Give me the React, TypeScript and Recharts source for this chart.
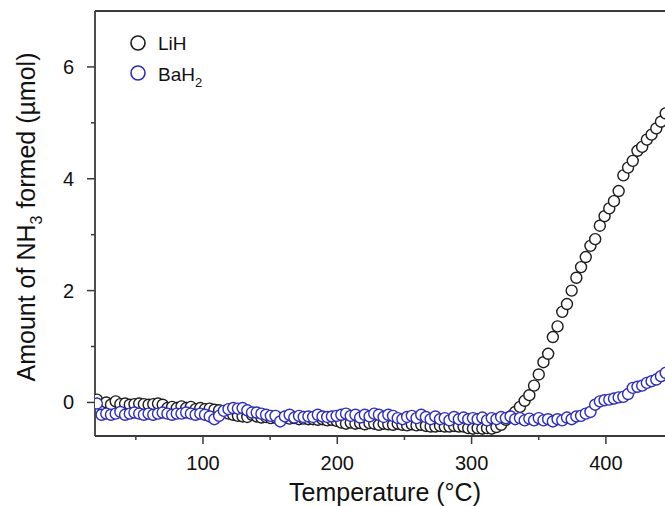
import React from "react"
import {
  ScatterChart,
  Scatter,
  XAxis,
  YAxis,
  ReferenceLine,
  Legend
} from "recharts"

// temperature (°C) of each reading
const temps = [
  21, 24.5, 28, 31.5, 35, 38.5, 42, 45.5, 49, 52.5,
  56, 59.5, 63, 66.5, 70, 73.5, 77, 80.5, 84, 87.5,
  91, 94.5, 98, 101.5, 105, 108.5, 112, 115.5, 119, 122.5,
  126, 129.5, 133, 136.5, 140, 143.5, 147, 150.5, 154, 157.5,
  161, 164.5, 168, 171.5, 175, 178.5, 182, 185.5, 189, 192.5,
  196, 199.5, 203, 206.5, 210, 213.5, 217, 220.5, 224, 227.5,
  231, 234.5, 238, 241.5, 245, 248.5, 252, 255.5, 259, 262.5,
  266, 269.5, 273, 276.5, 280, 283.5, 287, 290.5, 294, 297.5,
  301, 304.5, 308, 311.5, 315, 318.5, 322, 325.5, 329, 332.5,
  336, 339.5, 343, 346.5, 350, 353.5, 357, 360.5, 364, 367.5,
  371, 374.5, 378, 381.5, 385, 388.5, 392, 395.5, 399, 402.5,
  406, 409.5, 413, 416.5, 420, 423.5, 427, 430.5, 434, 437.5,
  441, 444.5
]

// NH3 formed (µmol), LiH
const lihValues = [
  0.05, -0.04, 0.0, -0.04, 0.02, -0.03, -0.02, -0.04, -0.03, -0.02,
  -0.03, -0.04, -0.03, -0.02, -0.04, -0.1, -0.08, -0.1, -0.07, -0.1,
  -0.08, -0.12, -0.1, -0.12, -0.11, -0.13, -0.14, -0.16, -0.2, -0.22,
  -0.24, -0.25, -0.26, -0.22, -0.25, -0.27, -0.26, -0.28, -0.27, -0.28,
  -0.27, -0.29, -0.28, -0.3, -0.29, -0.3, -0.3, -0.31, -0.3, -0.32,
  -0.31, -0.33, -0.36, -0.38, -0.36, -0.38, -0.37, -0.39, -0.37, -0.38,
  -0.4, -0.38, -0.39, -0.4, -0.38, -0.4, -0.41, -0.39, -0.41, -0.4,
  -0.42, -0.43, -0.43, -0.42, -0.43, -0.43, -0.42, -0.43, -0.43, -0.46,
  -0.47, -0.46, -0.47, -0.46, -0.47, -0.44, -0.4, -0.31, -0.25, -0.17,
  -0.08, 0.03, 0.13, 0.3, 0.5, 0.72, 0.87, 1.17, 1.36, 1.62,
  1.76, 2.0, 2.23, 2.42, 2.6, 2.8, 2.92, 3.16, 3.33, 3.47,
  3.6, 3.78, 4.06, 4.2, 4.32, 4.5, 4.57, 4.7, 4.79, 4.9,
  5.02, 5.17
]

// NH3 formed (µmol), BaH2
const bahValues = [
  -0.02, -0.22, -0.2, -0.22, -0.2, -0.17, -0.22, -0.2, -0.18, -0.2,
  -0.22, -0.2, -0.22, -0.2, -0.18, -0.2, -0.22, -0.2, -0.2, -0.18,
  -0.2, -0.22, -0.2, -0.22, -0.25, -0.3, -0.24, -0.15, -0.12, -0.1,
  -0.11, -0.1, -0.14, -0.18, -0.18, -0.2, -0.22, -0.24, -0.24, -0.34,
  -0.25, -0.22, -0.27, -0.24, -0.26, -0.25, -0.26, -0.22, -0.25, -0.26,
  -0.25, -0.24, -0.22, -0.2, -0.24, -0.22, -0.27, -0.22, -0.25, -0.2,
  -0.22, -0.26, -0.22, -0.24, -0.28, -0.3, -0.26, -0.24, -0.28, -0.22,
  -0.26, -0.3, -0.25, -0.3, -0.28, -0.32, -0.26, -0.3, -0.27, -0.3,
  -0.28, -0.3, -0.27, -0.32, -0.28, -0.3, -0.26, -0.28, -0.25, -0.3,
  -0.28, -0.32, -0.29, -0.32, -0.28, -0.32, -0.3, -0.34, -0.3, -0.32,
  -0.27, -0.3, -0.25, -0.24, -0.2, -0.17, -0.04, 0.02, 0.04, 0.05,
  0.07, 0.09, 0.1, 0.15, 0.26, 0.28, 0.3, 0.35, 0.38, 0.41,
  0.47, 0.53
]

const xTicks = [50, 100, 150, 200, 250, 300, 350, 400]
const yTicks = [0, 1, 2, 3, 4, 5, 6]

const AXIS = "#3a3a3a"
const FONT = "Liberation Sans, Arial, sans-serif"
const LIH_COLOR = "#1c1c1c"
const BAH_COLOR = "#2b2bc8"

const lihData = temps.map((t, i) => ({ t, v: lihValues[i] }))
const bahData = temps.map((t, i) => ({ t, v: bahValues[i] }))

const ring = (color: string) => (props: any) => (
  <circle cx={props.cx} cy={props.cy} r={5.5} fill="#fff" stroke={color} strokeWidth={1.4} />
)

const XTick = (props: any) => {
  const { x, y, payload } = props
  const major = payload.value % 100 === 0
  return (
    <g>
      <line x1={x} x2={x} y1={y} y2={y + (major ? 8 : 4)} stroke={AXIS} strokeWidth={1.5} />
      {major && (
        <text x={x} y={y + 34} textAnchor="middle" fontSize={20} fill="#111" fontFamily={FONT}>
          {payload.value}
        </text>
      )}
    </g>
  )
}

const YTick = (props: any) => {
  const { x, y, payload } = props
  const major = payload.value % 2 === 0
  return (
    <g>
      <line x1={x - (major ? 8 : 4)} x2={x} y1={y} y2={y} stroke={AXIS} strokeWidth={1.5} />
      {major && (
        <text x={x - 21} y={y + 7} textAnchor="end" fontSize={20} fill="#111" fontFamily={FONT}>
          {payload.value}
        </text>
      )}
    </g>
  )
}

const LegendBox = () => (
  <svg width={120} height={62}>
    <circle cx={12} cy={13} r={7} fill="#fff" stroke={LIH_COLOR} strokeWidth={1.6} />
    <text x={32} y={20} fontSize={19} fill="#111" fontFamily={FONT}>LiH</text>
    <circle cx={12} cy={43} r={7} fill="#fff" stroke={BAH_COLOR} strokeWidth={1.6} />
    <text x={32} y={51} fontSize={19} fill="#111" fontFamily={FONT}>
      BaH<tspan fontSize={13} dy={6}>2</tspan>
    </text>
  </svg>
)

export default function App() {
  return (
    <div style={{ position: "absolute", left: 0, top: 0, width: 665, height: 506, background: "#fff" }}>
      <ScatterChart width={665} height={506} margin={{ top: 11, right: 0, bottom: 0, left: 0 }}>
        <XAxis
          type="number"
          dataKey="t"
          domain={[19.6, 444]}
          allowDataOverflow
          ticks={xTicks}
          interval={0}
          tick={<XTick />}
          tickSize={0}
          tickMargin={0}
          tickLine={false}
          height={70}
          stroke={AXIS}
          strokeWidth={1.8}
          label={{
            content: () => (
              <text x={385} y={501} textAnchor="middle" fontSize={25} fill="#111" fontFamily={FONT}>
                Temperature (°C)
              </text>
            )
          }}
        />
        <YAxis
          type="number"
          dataKey="v"
          domain={[-0.6, 7]}
          allowDataOverflow
          ticks={yTicks}
          interval={0}
          tick={<YTick />}
          tickSize={0}
          tickMargin={0}
          tickLine={false}
          width={95}
          stroke={AXIS}
          strokeWidth={1.8}
          label={{
            content: () => (
              <text
                transform="translate(35, 217) rotate(-90)"
                textAnchor="middle"
                fontSize={25}
                fill="#111"
                fontFamily={FONT}
              >
                Amount of NH<tspan fontSize={16} dy={7}>3</tspan>
                <tspan dy={-7}> formed (µmol)</tspan>
              </text>
            )
          }}
        />
        <ReferenceLine y={7} stroke={AXIS} strokeWidth={1.8} />
        <Legend
          layout="vertical"
          align="center"
          verticalAlign="middle"
          wrapperStyle={{ left: 126, top: 30, width: 120, height: 62 }}
          content={<LegendBox />}
        />
        <Scatter name="LiH" data={lihData} shape={ring(LIH_COLOR)} isAnimationActive={false} />
        <Scatter name="BaH2" data={bahData} shape={ring(BAH_COLOR)} isAnimationActive={false} />
      </ScatterChart>
    </div>
  )
}
